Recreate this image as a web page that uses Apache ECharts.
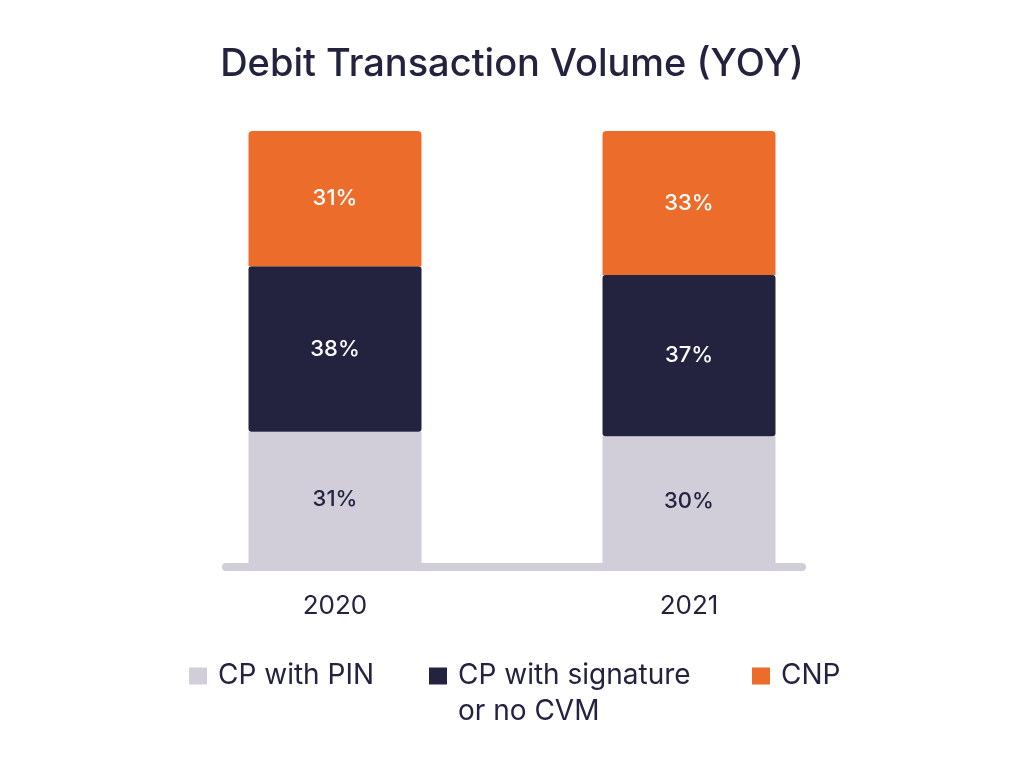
<!DOCTYPE html>
<html>
<head>
<meta charset="utf-8">
<script src="https://cdn.jsdelivr.net/npm/echarts@6/dist/echarts.min.js"></script>
<style>
  html, body { margin: 0; padding: 0; background: #fff; }
  #main { width: 1024px; height: 775px; }
</style>
</head>
<body>
<div id="main"></div>
<script>
// data
var years = ['2020', '2021'];
var pinShare = [31, 30];
var signatureShare = [38, 37];
var cnpShare = [31, 33];
var seriesNames = ['CP with PIN', 'CP with signature\nor no CVM', 'CNP'];

var navy = '#23233f';
var grey = '#d1ced9';
var orange = '#ec6c2b';
var fontName = 'Inter';

var myChart = echarts.init(document.getElementById('main'));

function pctLabel(color) {
    return {
        show: true,
        position: 'inside',
        formatter: '{c}%',
        color: color,
        fontFamily: fontName,
        fontSize: 22,
        fontWeight: 500
    };
}

// one legend per item so each sits where the original has it
function legendAt(name, left, top) {
    return {
        left: left,
        top: top,
        padding: 0,
        itemWidth: 18,
        itemHeight: 17,
        icon: 'rect',
        selectedMode: false,
        // empty first line keeps the icon on the first text line
        formatter: function (n) { return n.indexOf('\n') >= 0 ? ' \n' + n : n; },
        textStyle: {
            color: navy,
            fontFamily: fontName,
            fontSize: 28,
            lineHeight: 36,
            padding: [0, 0, 0, 6]
        },
        data: [name]
    };
}

var option = {
    backgroundColor: '#fff',
    animation: false,
    title: {
        text: 'Debit Transaction Volume (YOY)',
        left: 'center',
        top: 41,
        textStyle: {
            color: navy,
            fontFamily: fontName,
            fontSize: 38,
            fontWeight: 500
        }
    },
    legend: [
        legendAt(seriesNames[0], 189, 658),
        legendAt(seriesNames[1], 429, 622),
        legendAt(seriesNames[2], 752, 658)
    ],
    grid: [
        { left: 158, right: 158, top: 131, bottom: 208 },
        // just for the base line
        { left: 226, right: 222, top: 131, bottom: 208 }
    ],
    xAxis: [
        {
            type: 'category',
            gridIndex: 0,
            data: years,
            axisLine: { show: false },
            axisTick: { show: false },
            axisLabel: {
                margin: 26,
                color: navy,
                fontFamily: fontName,
                fontSize: 26
            }
        },
        {
            type: 'value',
            gridIndex: 1,
            min: 0,
            max: 1,
            axisLine: { show: true, lineStyle: { color: grey, width: 8, cap: 'round' } },
            axisTick: { show: false },
            axisLabel: { show: false },
            splitLine: { show: false }
        }
    ],
    yAxis: [
        { type: 'value', gridIndex: 0, min: 0, max: 100, show: false },
        { type: 'value', gridIndex: 1, min: 0, max: 1, show: false }
    ],
    series: [
        {
            name: seriesNames[0],
            type: 'bar',
            stack: 'total',
            barWidth: 173,
            itemStyle: { color: grey },
            label: pctLabel(navy),
            data: pinShare
        },
        {
            name: seriesNames[1],
            type: 'bar',
            stack: 'total',
            barWidth: 173,
            itemStyle: { color: navy, borderRadius: 3 },
            label: pctLabel('#ffffff'),
            data: signatureShare
        },
        {
            name: seriesNames[2],
            type: 'bar',
            stack: 'total',
            barWidth: 173,
            itemStyle: { color: orange, borderRadius: [4, 4, 0, 0] },
            label: pctLabel('#ffffff'),
            data: cnpShare
        }
    ]
};
myChart.setOption(option);
</script>
</body>
</html>
